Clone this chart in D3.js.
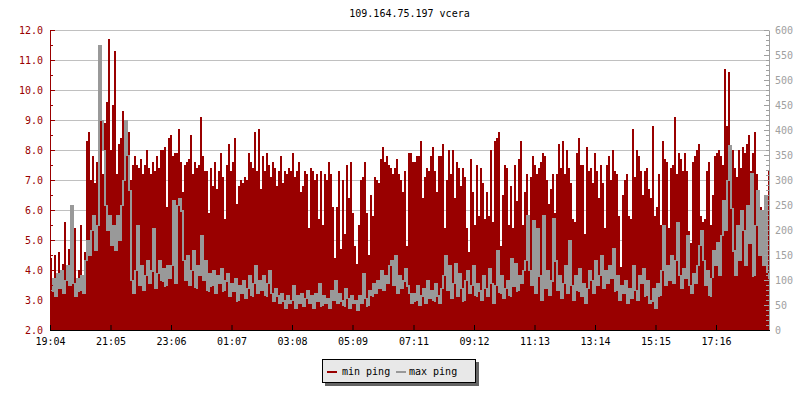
<!DOCTYPE html>
<html><head><meta charset="utf-8">
<script src="https://cdn.jsdelivr.net/npm/d3@7"></script>
<style>
body{margin:0;background:#fff;}
svg{display:block;font-family:"DejaVu Sans Mono",monospace;font-size:10px;}
</style></head><body>
<svg id="chart" width="800" height="400"></svg>
<script>
// min ping (left axis, ms) sampled every 4 minutes from 19:04
const minPing = [
4.4,3.6,4.5,3.9,4.6,3.8,4.2,5.6,4.0,4.7,3.9,4.3,5.4,3.7,4.0,5.5,3.8,4.6,8.3,8.6,
7.0,7.8,6.9,7.6,9.5,9.4,7.2,8.9,9.6,11.7,8.0,9.5,11.3,7.2,8.2,8.4,9.3,7.7,8.5,8.6,
7.0,7.5,7.8,7.5,7.4,7.7,7.2,7.5,8.0,7.4,7.2,7.6,7.3,7.8,7.4,8.0,8.0,8.1,6.1,8.4,
8.5,7.8,7.9,7.9,8.7,7.6,6.6,7.5,7.6,7.7,8.5,7.2,7.6,7.4,7.5,9.1,7.8,7.3,7.3,5.9,
7.4,6.8,7.6,6.7,7.3,7.9,7.1,5.7,7.5,8.2,7.3,7.6,8.4,6.2,6.8,7.0,6.9,7.1,7.0,7.9,
7.6,7.4,8.6,7.3,8.7,6.7,7.8,7.3,7.9,7.5,7.1,7.6,7.4,6.8,7.3,7.8,6.9,7.3,7.2,7.4,
7.3,7.9,7.1,7.3,7.6,6.6,6.8,7.3,7.2,5.4,7.4,7.3,7.0,7.2,5.7,7.3,5.5,7.2,7.0,7.6,
7.2,6.1,4.4,6.1,7.3,4.7,7.0,5.2,7.5,6.4,7.6,5.9,4.8,4.2,5.5,7.0,7.1,7.6,5.9,4.5,
6.5,5.8,7.1,7.0,6.9,7.7,8.1,7.6,7.8,7.5,7.4,7.2,7.4,7.7,7.2,7.0,6.6,7.3,4.8,7.9,
7.9,7.6,7.6,7.8,7.8,8.3,6.4,7.1,7.4,7.3,7.8,8.1,7.3,6.6,7.8,7.8,8.2,5.4,7.0,8.0,
7.2,8.0,6.4,7.6,7.4,6.8,7.4,7.1,5.4,4.6,7.7,6.6,5.5,7.5,5.8,7.4,6.9,5.7,6.6,5.8,
8.0,5.6,8.3,8.4,8.6,4.8,6.5,7.5,7.4,5.5,6.8,5.4,7.5,6.3,7.7,8.3,5.5,6.6,7.2,5.8,
7.1,7.8,7.5,7.2,7.4,7.6,7.9,7.8,7.0,6.2,6.7,7.2,5.9,7.2,8.2,7.4,8.3,7.2,8.0,7.4,
6.9,5.7,5.6,7.9,8.4,7.5,7.5,5.2,8.1,7.3,7.4,6.9,7.9,7.3,6.4,7.5,6.9,5.4,7.5,7.8,
7.0,8.0,7.3,7.2,5.8,4.1,6.5,7.0,7.2,5.8,5.7,8.7,7.1,8.0,7.8,7.3,6.5,7.3,7.4,6.7,
6.4,8.8,5.8,6.1,7.2,5.5,8.3,7.7,7.6,5.4,7.4,7.5,9.1,7.2,7.9,7.7,7.3,7.9,7.3,5.3,
4.9,7.6,7.8,8.0,8.2,5.8,5.6,5.7,7.3,7.6,5.5,6.5,7.8,7.9,8.0,7.8,7.5,10.7,8.8,10.6,
7.6,8.0,7.4,7.1,8.0,7.4,8.1,7.9,8.2,8.5,7.3,7.9,8.6,7.2,6.5,6.1,5.9,4.6,5.6,7.3
];
// max ping (right axis, ms)
const maxPing = [
80,105,70,115,85,120,75,100,130,90,250,95,70,105,80,110,75,140,180,150,
200,230,160,210,570,420,360,250,200,230,170,210,160,230,180,250,300,420,350,280,
100,75,120,210,90,130,80,110,140,95,120,205,85,115,140,100,125,90,130,105,
130,260,95,250,265,240,140,100,150,90,120,160,85,130,110,190,100,140,80,115,
90,120,75,110,95,125,80,100,115,70,95,80,105,60,90,75,100,65,85,110,
70,95,130,75,100,80,110,70,95,120,75,60,85,70,55,75,60,45,70,55,
60,90,45,70,55,75,50,65,80,55,70,45,75,60,95,50,70,55,65,45,
80,60,100,55,75,60,50,85,65,45,70,55,60,40,70,55,115,65,50,80,
70,95,75,100,85,120,80,110,95,130,140,90,150,75,110,85,100,125,90,75,
55,75,60,90,50,70,85,55,100,65,80,60,95,70,55,85,110,150,80,130,
65,95,135,70,115,85,60,100,120,75,90,130,70,95,80,60,110,85,70,125,
95,55,90,160,75,110,65,85,100,70,145,90,135,80,110,95,120,140,230,120,
90,220,75,205,110,60,230,85,120,70,100,225,140,80,110,65,95,130,75,180,
90,60,110,80,125,70,95,55,85,120,100,75,140,90,110,150,85,120,95,130,
105,165,80,110,60,90,75,100,55,85,65,130,80,60,110,95,125,70,100,55,
60,85,45,95,70,120,210,90,130,100,150,95,140,215,110,85,125,105,190,90,
75,115,95,130,170,200,140,90,120,70,105,160,130,175,110,190,260,200,300,370,
245,160,110,210,140,240,200,130,250,175,315,110,210,280,150,240,130,270,115,105
];
const xTickLabels = ["19:04","21:05","23:06","01:07","03:08","05:09","07:11","09:12","11:13","13:14","15:15","17:16"];
const leftTicks = [2,3,4,5,6,7,8,9,10,11,12];
const leftMinor = [2.5,3.5,4.5,5.5,6.5,7.5,8.5,9.5,10.5,11.5];
const rightTicks = [0,50,100,150,200,250,300,350,400,450,500,550,600];
const rightMinor = d3.range(0,601,10);
const titleText = "109.164.75.197 vcera";
const legendItems = ["min ping","max ping"];
const startTime = new Date(2024,0,1,19,4);
const stepMin = 4;

const RED = "#990000", GRAY = "#999999";
const L = 50, R = 769, T = 30, B = 330;

const times = minPing.map((_, i) => new Date(startTime.getTime() + i*stepMin*60000));
const endTime = new Date(startTime.getTime() + minPing.length*stepMin*60000);
const x = d3.scaleTime().domain([startTime, endTime]).range([L, 770]);
const yL = d3.scaleLinear().domain([2, 12]).range([B, T]);
const yR = d3.scaleLinear().domain([0, 600]).range([B, T]);
const colW = (i) => x(new Date(times[i].getTime()+stepMin*60000)) - x(times[i]);

const tickDates = xTickLabels.map(s => {
  const [h, m] = s.split(":").map(Number);
  const d = new Date(2024,0,1,h,m);
  if (h*60+m < 19*60+4) d.setDate(d.getDate()+1);
  return d;
});

const svg = d3.select("#chart");
svg.append("defs").append("clipPath").attr("id","clip")
  .append("rect").attr("x",L).attr("y",T-5).attr("width",R-L).attr("height",B-T+5);

// title
svg.append("text").attr("x",(L+R)/2).attr("y",17).attr("text-anchor","middle")
  .attr("fill","#000").text(titleText);

// grid
svg.append("g").selectAll("line").data(leftTicks.filter(v=>v>2)).join("line")
  .attr("x1",L).attr("x2",R).attr("y1",d=>Math.round(yL(d))+0.5).attr("y2",d=>Math.round(yL(d))+0.5)
  .attr("stroke","#c0c0c0").attr("stroke-width",1);

const plot = svg.append("g").attr("clip-path","url(#clip)").attr("shape-rendering","crispEdges");
// min ping (filled area drawn column by column)
plot.append("g").selectAll("rect").data(minPing).join("rect")
  .attr("x",(d,i)=>x(times[i])).attr("width",(d,i)=>colW(i))
  .attr("y",d=>Math.round(yL(d))).attr("height",d=>B-Math.round(yL(d)))
  .attr("fill",RED);
// max ping line, rasterised column by column (vertical join from previous sample)
plot.append("g").selectAll("rect").data(maxPing).join("rect")
  .attr("x",(d,i)=>x(times[i])).attr("width",(d,i)=>colW(i))
  .attr("y",(d,i)=>Math.round(Math.min(yR(d), yR(i ? maxPing[i-1] : d))))
  .attr("height",(d,i)=>Math.round(Math.abs(yR(d)-yR(i ? maxPing[i-1] : d)))+1)
  .attr("fill",GRAY);

function styleAxis(g, color){
  g.attr("font-family",null).attr("font-size",null).attr("color",color);
  g.selectAll("text").attr("fill",color);
}
// left axis
const gl = svg.append("g").attr("transform",`translate(${L},0)`)
  .call(d3.axisLeft(yL).tickValues(leftTicks).tickSize(-5).tickSizeOuter(0).tickPadding(7).tickFormat(d3.format(".1f")));
styleAxis(gl, RED);
const glm = svg.append("g").attr("transform",`translate(${L},0)`)
  .call(d3.axisLeft(yL).tickValues(leftMinor).tickSize(-3).tickFormat(""));
glm.select(".domain").remove(); styleAxis(glm, RED);
// right axis
const gr = svg.append("g").attr("transform",`translate(${R},0)`)
  .call(d3.axisRight(yR).tickValues(rightTicks).tickSize(-5).tickSizeOuter(0).tickPadding(6));
styleAxis(gr, "#a0a0a0");
const grm = svg.append("g").attr("transform",`translate(${R},0)`)
  .call(d3.axisRight(yR).tickValues(rightMinor).tickSize(-3).tickFormat(""));
grm.select(".domain").remove(); styleAxis(grm, "#a0a0a0");
// bottom axis
const gb = svg.append("g").attr("transform",`translate(0,${B})`)
  .call(d3.axisBottom(x).tickValues(tickDates).tickFormat((d,i)=>xTickLabels[i]).tickSize(-5).tickSizeOuter(0).tickPadding(8));
styleAxis(gb, "#000");
gb.select(".domain").attr("d",`M${L},0.5H${R+1}`);

// legend
const lg = svg.append("g");
lg.append("rect").attr("x",325).attr("y",362).attr("width",154).attr("height",24).attr("fill","#646464");
lg.append("rect").attr("x",322.5).attr("y",359.5).attr("width",153).attr("height",23)
  .attr("fill","#e8e8e8").attr("stroke","#000").attr("stroke-width",1);
lg.append("rect").attr("x",327).attr("y",371).attr("width",10).attr("height",2).attr("fill",RED);
lg.append("text").attr("x",342).attr("y",375).attr("fill","#000").text(legendItems[0]);
lg.append("rect").attr("x",396).attr("y",371).attr("width",10).attr("height",2).attr("fill",GRAY);
lg.append("text").attr("x",409).attr("y",375).attr("fill","#000").text(legendItems[1]);
</script>
</body></html>
